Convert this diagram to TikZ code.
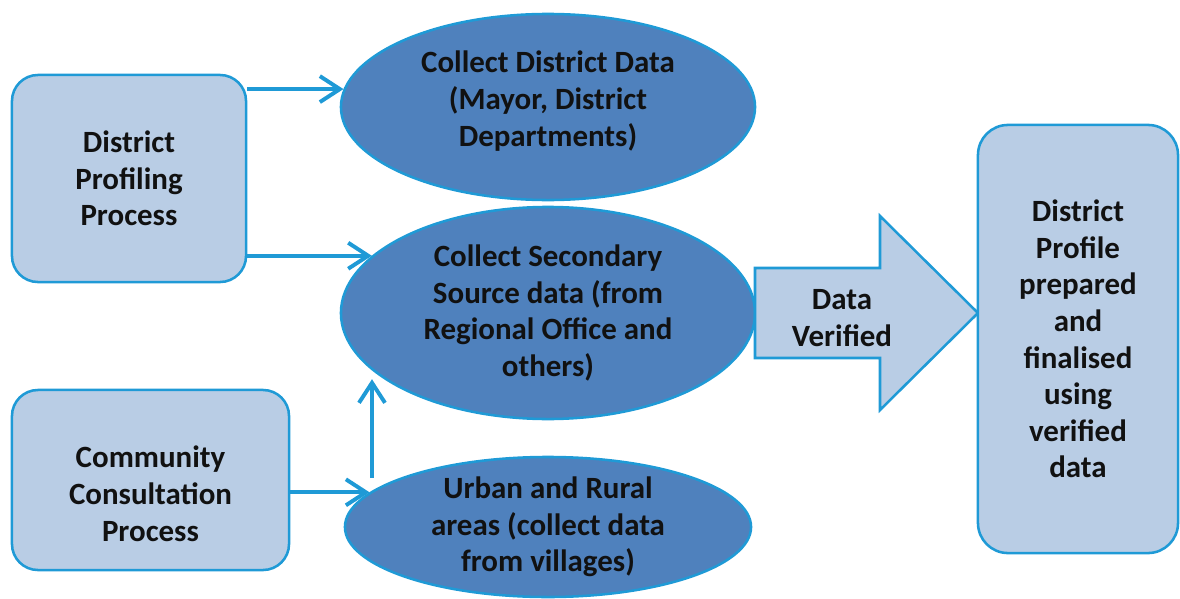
\documentclass[tikz,border=0pt]{standalone}
\usepackage{fontspec}
\setmainfont{Carlito}
\usetikzlibrary{shapes.geometric,arrows.meta,calc}
\definecolor{boxfill}{HTML}{B9CDE5}
\definecolor{edgeblue}{HTML}{1F9AD6}
\definecolor{ovalfill}{HTML}{4F81BD}
\definecolor{txt}{HTML}{111111}

\begin{document}
\begin{tikzpicture}[x=0.025cm, y=-0.025cm,
    every node/.style={font=\fontsize{22}{26}\selectfont\bfseries, text=txt, align=center},
    procbox/.style={draw=edgeblue, line width=1.8pt, fill=boxfill, rounded corners=0.65cm},
    oval/.style={ellipse, draw=edgeblue, line width=1.8pt, fill=ovalfill, inner sep=0pt},
    conn/.style={draw=edgeblue, line width=2.8pt, -{Straight Barb[length=5mm,width=6.5mm]}}]
    \useasboundingbox (0,0) rectangle (1180,599);

    % Processes
    \node[procbox, minimum width=5.85cm, minimum height=5.175cm] (dpp) at (129,178.5) {District\\Profiling\\Process};
    \node[procbox, minimum width=6.925cm, minimum height=4.5cm, text height=87pt] (ccp) at (150.5,480) {Community\\Consultation\\Process};

    % Data collection
    \node[oval, minimum width=10.35cm, minimum height=4.65cm, text height=59pt] (cdd) at (548,107) {Collect District Data\\(Mayor, District\\Departments)};
    \node[oval, minimum width=10.35cm, minimum height=5.3cm] (csd) at (548,313) {Collect Secondary\\Source data (from\\Regional Office and\\others)};
    \node[oval, minimum width=10.15cm, minimum height=3.5cm, inner ysep=-1.5pt] (urb) at (548,527) {Urban and Rural\\areas (collect data\\from villages)};

    % Verification
    \draw[draw=edgeblue, line width=1.8pt, fill=boxfill] (755,268) -- (880,268) -- (880,216) -- (978,313) -- (880,410) -- (880,358) -- (755,358) -- cycle;
    \node (ver) at (842,318) {Data\\Verified};

    \node[procbox, rounded corners=0.75cm, minimum width=5cm, minimum height=10.7cm] (prof) at (1078,339) {District\\Profile\\prepared\\and\\finalised\\using\\verified\\data};

    \draw[conn] (dpp.east |- cdd.175) -- (cdd.175);
    \draw[conn] (dpp.east |- csd.162) -- (csd.162);
    \draw[conn] (ccp.east |- urb.169) -- (urb.169);
    \coordinate (lift) at (372,478);
    \draw[conn] (lift) -- (lift |- csd.202);
\end{tikzpicture}
\end{document}
